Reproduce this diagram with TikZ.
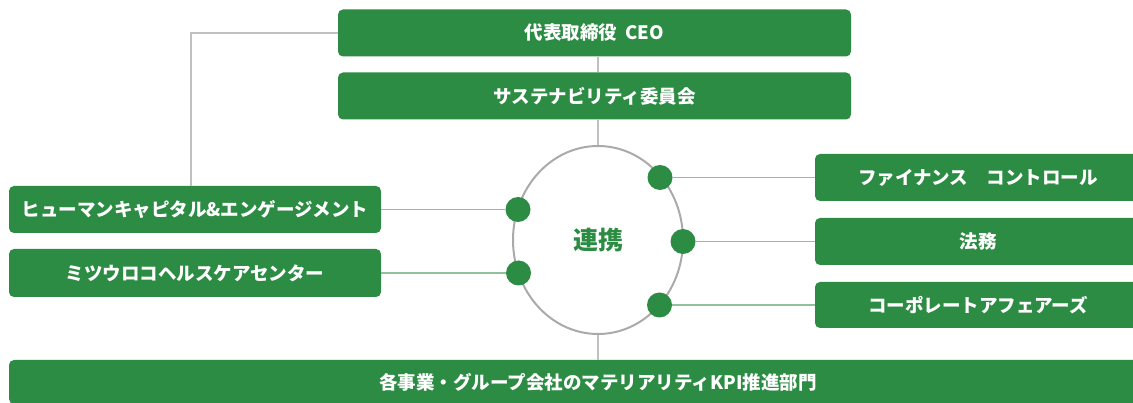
\documentclass[tikz,border=0pt]{standalone}
\usepackage{fontspec}
\setmainfont{Noto Sans CJK JP}
\usetikzlibrary{shapes.geometric}
\definecolor{boxgreen}{RGB}{44,140,68}
\definecolor{linkgreen}{RGB}{145,192,156}
\definecolor{linegray}{RGB}{192,192,192}
\definecolor{ringgray}{RGB}{170,170,170}
\begin{document}
\begin{tikzpicture}[x=1pt,y=-1pt,
  gbox/.style={draw=none,fill=boxgreen,rounded corners=5pt,text=white,inner sep=0pt,
    font=\fontsize{18.5}{19}\selectfont\bfseries,align=center},
  dot/.style={circle,fill=boxgreen,minimum size=25pt,inner sep=0pt},
  grayline/.style={draw=linegray,line width=1.5pt},
  glink/.style={draw=linkgreen,line width=1.5pt}]
\useasboundingbox (0,0) rectangle (1133,403);
\clip (0,0) rectangle (1133,403);
% boxes
\node[gbox,minimum width=513pt,minimum height=47pt] (ceo) at (594.5,33) {代表取締役\hspace{0.45em}CEO};
\node[gbox,minimum width=513pt,minimum height=47pt] (sus) at (594.5,96) {サステナビリティ委員会};
\node[gbox,minimum width=372pt,minimum height=47pt] (hc) at (195,209.5) {ヒューマンキャピタル\&エンゲージメント};
\node[gbox,minimum width=372pt,minimum height=48pt] (hcc) at (195,273) {ミツウロコヘルスケアセンター};
\node[gbox,minimum width=326pt,minimum height=47pt] (fc) at (978,177.5) {ファイナンス　コントロール};
\node[gbox,minimum width=326pt,minimum height=47pt] (legal) at (978,241.5) {法務};
\node[gbox,minimum width=326pt,minimum height=46pt] (ca) at (978,305) {コーポレートアフェアーズ};
\node[gbox,minimum width=1178pt,minimum height=44pt] (bot) at (598,382) {各事業・グループ会社のマテリアリティKPI推進部門};
% ring
\node[ellipse,draw=ringgray,line width=2pt,minimum width=170pt,minimum height=188pt,inner sep=0pt,
  text=boxgreen,font=\fontsize{25}{25}\selectfont\bfseries] (ring) at (598,240) {連携};
% gray connectors
\draw[grayline] (ceo.west) -| ([xshift=-4pt]hc.north);
\draw[grayline] (ceo.south -| ring.north) -- (sus.north -| ring.north);
\draw[grayline] (sus.south -| ring.north) -- (ring.north);
\draw[grayline] (ring.south) -- (bot.north -| ring.south);
% dots
\node[dot] (dl1) at (518,209.5) {};
\node[dot] (dl2) at (518.5,273) {};
\node[dot] (dr1) at (660,177.5) {};
\node[dot] (dr2) at (683,241.5) {};
\node[dot] (dr3) at (659.5,305) {};
% green links
\draw[glink] (dl1.west) -- (hc.east);
\draw[glink] (dl2.west) -- (hcc.east);
\draw[glink] (dr1.east) -- (fc.west);
\draw[glink] (dr2.east) -- (legal.west);
\draw[glink] (dr3.east) -- (ca.west);
\end{tikzpicture}
\end{document}
